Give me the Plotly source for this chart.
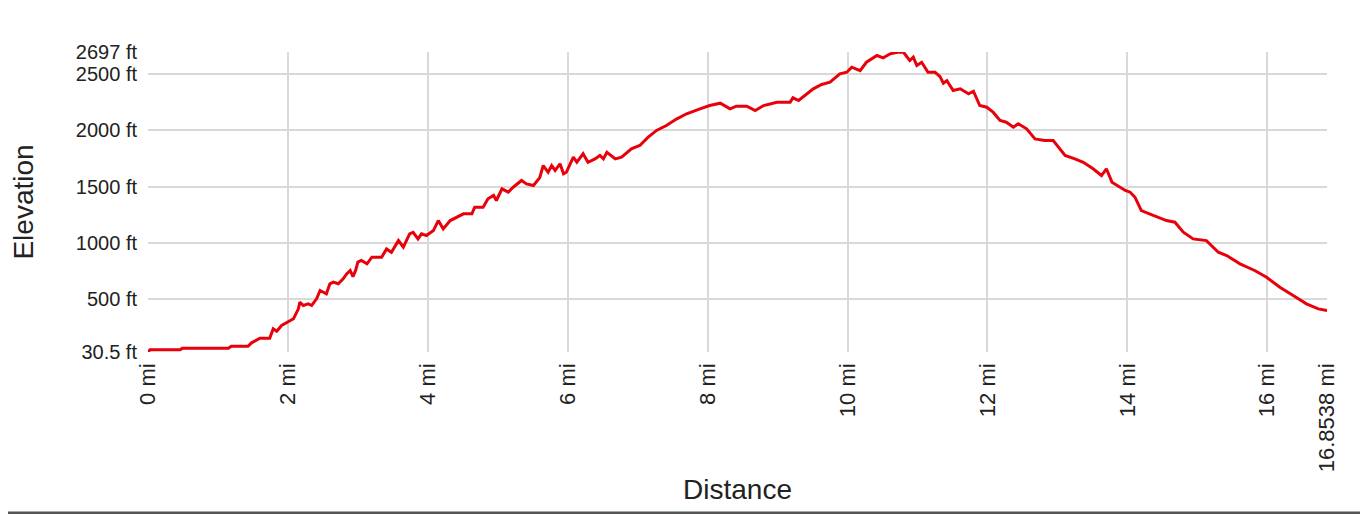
import plotly.graph_objects as go

distance_mi = [0, 0.03, 0.46, 0.49, 1.15, 1.19, 1.43, 1.48, 1.60, 1.74, 1.79, 1.84, 1.91, 2.00,
               2.08, 2.15, 2.17, 2.22, 2.29, 2.34, 2.41, 2.46, 2.55, 2.60, 2.65, 2.72, 2.79, 2.84,
               2.89, 2.93, 2.97, 3.00, 3.05, 3.13, 3.20, 3.34, 3.41, 3.48, 3.58, 3.65, 3.74, 3.79,
               3.86, 3.91, 3.98, 4.08, 4.15, 4.22, 4.32, 4.51, 4.63, 4.67, 4.79, 4.86, 4.94, 4.98,
               5.06, 5.15, 5.22, 5.34, 5.41, 5.51, 5.60, 5.65, 5.69, 5.72, 5.77, 5.82, 5.89, 5.94,
               5.98, 6.08, 6.13, 6.22, 6.29, 6.39, 6.46, 6.51, 6.56, 6.68, 6.77, 6.91, 7.03, 7.15,
               7.27, 7.41, 7.56, 7.70, 7.89, 8.03, 8.18, 8.32, 8.41, 8.46, 8.56, 8.68, 8.80, 8.99,
               9.18, 9.22, 9.30, 9.51, 9.63, 9.75, 9.89, 9.99, 10.06, 10.18, 10.27, 10.42, 10.51,
               10.61, 10.73, 10.80, 10.89, 10.94, 10.99, 11.06, 11.15, 11.25, 11.32, 11.37, 11.42,
               11.51, 11.61, 11.73, 11.80, 11.89, 11.99, 12.08, 12.18, 12.27, 12.37, 12.44, 12.56,
               12.68, 12.82, 12.94, 13.11, 13.25, 13.37, 13.51, 13.63, 13.70, 13.78, 13.97, 14.04,
               14.11, 14.20, 14.37, 14.56, 14.68, 14.80, 14.94, 15.13, 15.30, 15.42, 15.61, 15.82,
               15.99, 16.18, 16.37, 16.56, 16.73, 16.8538]
elevation_ft = [30.5, 50, 50, 64, 64, 82, 82, 112, 153, 153, 237, 215, 266, 295,
                326, 414, 473, 444, 459, 444, 503, 577, 548, 637, 651, 637, 681, 725,
                755, 700, 760, 829, 844, 814, 873, 873, 947, 917, 1021, 962, 1081, 1095,
                1036, 1081, 1066, 1110, 1199, 1125, 1199, 1259, 1259, 1318, 1318, 1392, 1422, 1377,
                1481, 1451, 1495, 1555, 1525, 1510, 1580, 1688, 1650, 1628, 1688, 1644, 1703, 1614,
                1628, 1762, 1717, 1792, 1717, 1747, 1777, 1747, 1806, 1747, 1762, 1836, 1866, 1940,
                2000, 2044, 2103, 2148, 2192, 2221, 2242, 2192, 2215, 2215, 2215, 2177, 2221, 2251,
                2251, 2290, 2266, 2370, 2408, 2428, 2503, 2517, 2562, 2532, 2606, 2666, 2645,
                2681, 2697, 2695, 2621, 2651, 2577, 2606, 2517, 2517, 2480, 2420, 2443,
                2355, 2370, 2325, 2348, 2221, 2206, 2162, 2088, 2073, 2029, 2059, 2014,
                1925, 1910, 1910, 1777, 1747, 1717, 1659, 1599, 1659, 1540, 1466, 1451,
                1406, 1288, 1244, 1199, 1184, 1095, 1036, 1021, 917, 888, 814, 755,
                695, 606, 532, 459, 414, 399]

x_tickvals = [0, 2, 4, 6, 8, 10, 12, 14, 16, 16.8538]
x_ticktext = ["0 mi", "2 mi", "4 mi", "6 mi", "8 mi", "10 mi", "12 mi", "14 mi", "16 mi", "16.8538 mi"]
y_tickvals = [30.5, 500, 1000, 1500, 2000, 2500, 2697]
y_ticktext = ["30.5 ft", "500 ft", "1000 ft", "1500 ft", "2000 ft", "2500 ft", "2697 ft"]

FONT = "Liberation Sans, Arial, sans-serif"
TXT = "#222222"

fig = go.Figure()
fig.add_trace(go.Scatter(x=distance_mi, y=elevation_ft, mode="lines",
                         line=dict(color="#e8000b", width=3), hoverinfo="x+y"))

grid = "#d9d9d9"
# page body has an 8px default margin, so the figure is shifted; compensate in size/margins
W, H = 1360, 506
L, R, T, B = 140, 41, 44, 162
PW, PH = W - L - R, H - T - B
fig.update_layout(
    width=W, height=H,
    margin=dict(l=L, r=R, t=T, b=B, autoexpand=False),
    paper_bgcolor="white", plot_bgcolor="white",
    showlegend=False,
    font=dict(family=FONT, color=TXT),
    xaxis=dict(range=[0, 16.8538], tickmode="array", tickvals=x_tickvals, ticktext=x_ticktext,
               tickangle=-90, tickfont=dict(size=22, family=FONT, color=TXT),
               showgrid=True, gridcolor=grid, gridwidth=2, zeroline=False, showline=False,
               ticks="", ticklabelstandoff=6,
               title=dict(text="Distance", font=dict(size=28, family=FONT, color=TXT),
                          standoff=8)),
    yaxis=dict(range=[30.5, 2697], tickmode="array", tickvals=y_tickvals, ticktext=y_ticktext,
               tickfont=dict(size=20, family=FONT, color=TXT),
               showgrid=True, gridcolor=grid, gridwidth=2, zeroline=False, showline=False,
               ticks="", ticklabelstandoff=10,
               title=dict(text="Elevation", font=dict(size=28, family=FONT, color=TXT),
                          standoff=36)),
    shapes=[dict(type="rect", xref="paper", yref="paper",
                 x0=-L / PW, x1=1 + R / PW, y0=-B / PH, y1=-(B - 2.5) / PH,
                 fillcolor="#555555", line=dict(width=0), layer="above")],
)

fig.write_html("out.html")
